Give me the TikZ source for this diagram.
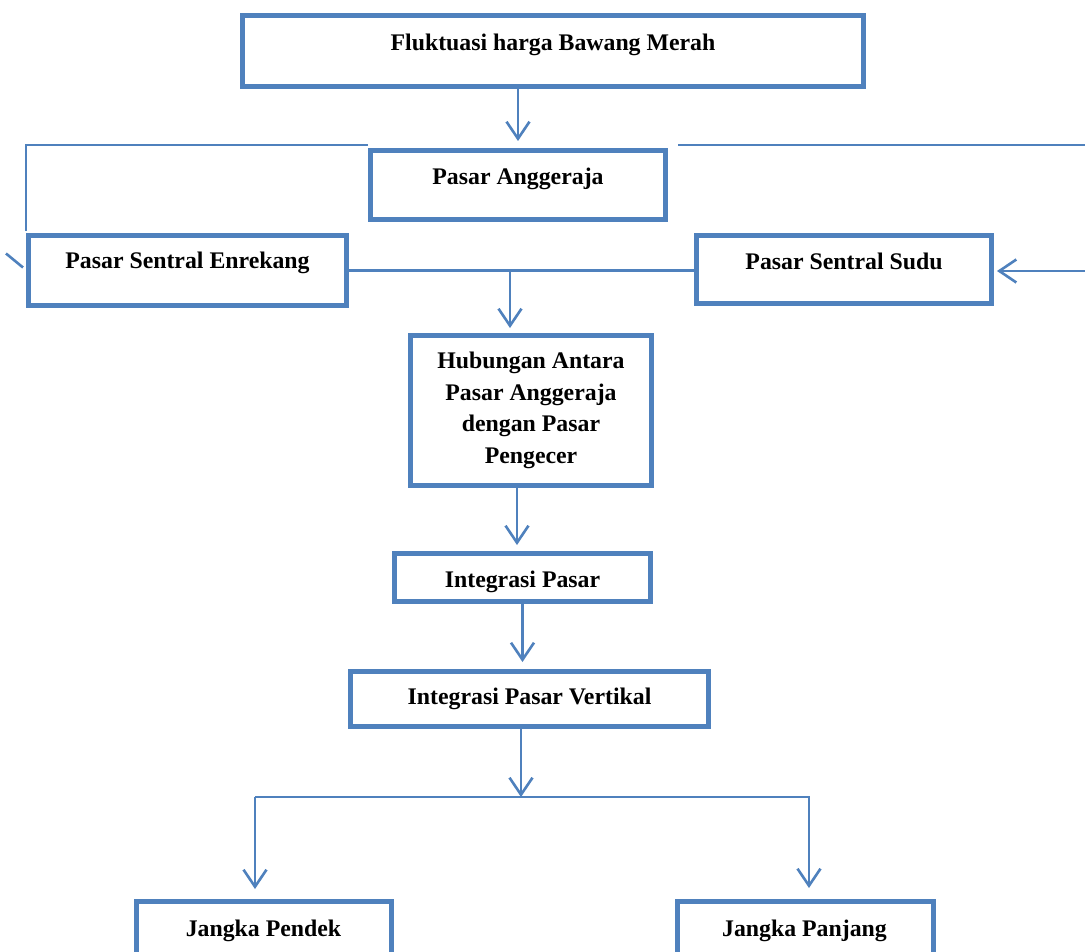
\documentclass[tikz,border=0pt]{standalone}
\usepackage{fontspec}
\setmainfont{Liberation Serif}
\usetikzlibrary{arrows.meta,calc}
\definecolor{bl}{HTML}{4F81BD}
\tikzset{
  box/.style={draw=bl, line width=5pt, rectangle, inner sep=0pt, fill=white},
  lbl/.style={font=\fontsize{23.8}{31.5}\selectfont\bfseries, align=center, inner sep=0pt, text=black},
  conn/.style={draw=bl, line width=2.2pt},
  arr/.style={conn, -{Straight Barb[length=17pt, width=23pt, line width=2.6pt]}}
}
\begin{document}
\begin{tikzpicture}[x=1pt,y=-1pt]
\useasboundingbox (0,0) rectangle (1085,952);
\clip (0,0) rectangle (1085,952);
\fill[white] (0,0) rectangle (1085,952);
% boxes
\node[box, minimum width=621pt, minimum height=71pt] (fluk) at (553,51) {};
\node[box, minimum width=295pt, minimum height=69pt] (angg) at (518,185) {};
\node[box, minimum width=318pt, minimum height=70pt] (enre) at (187.5,270.5) {};
\node[box, minimum width=295pt, minimum height=68pt] (sudu) at (844,269.5) {};
\node[box, minimum width=241pt, minimum height=150pt] (hub) at (531,410.5) {};
\node[box, minimum width=256pt, minimum height=48pt] (int) at (522.5,577.5) {};
\node[box, minimum width=358pt, minimum height=55pt] (vert) at (529.5,699) {};
\node[box, minimum width=255pt, minimum height=70pt] (pend) at (264,936.5) {};
\node[box, minimum width=256pt, minimum height=70pt] (panj) at (805.5,936.5) {};
% labels
\node[lbl] (tfluk) at (553,44.5) {Fluktuasi harga Bawang Merah};
\node[lbl] (tangg) at (518,178.5) {Pasar Anggeraja};
\node[lbl] (tenre) at (187.5,262.5) {Pasar Sentral Enrekang};
\node[lbl] (tsudu) at (844,261.5) {Pasar Sentral Sudu};
\node[lbl] (thub) at (531,410.5) {Hubungan Antara\\Pasar Anggeraja\\dengan Pasar\\Pengecer};
\node[lbl] (tint) at (522.5,581.5) {Integrasi Pasar};
\node[lbl] (tvert) at (529.5,698.5) {Integrasi Pasar Vertikal};
\node[lbl] (tpend) at (263.5,930.5) {Jangka Pendek};
\node[lbl] (tpanj) at (804.5,930.5) {Jangka Panjang};
% coordinates
\coordinate (rbot) at (1090,271);
\coordinate (j) at (521,797);
\coordinate (jl) at (255,797);
\coordinate (jr) at (810,797);
% connectors
\draw[arr] (angg.north |- fluk.south) -- ([yshift=7pt]angg.north);
\draw[conn] ([yshift=3pt]angg.north west) -- ([yshift=3pt]angg.north west -| enre.west) -- ([yshift=2pt]enre.north west);
\draw[conn, line width=2.6pt] ([xshift=-20pt,yshift=17pt]enre.west) -- ([xshift=-3pt,yshift=3pt]enre.west);
\draw[conn] ([xshift=10pt,yshift=3pt]angg.north east) -| (rbot);
\draw[arr] (rbot) -- ([xshift=3pt,yshift=-1.5pt]sudu.east);
\draw[conn] (enre.east) -- (enre.east -| sudu.west);
\draw[arr] ([xshift=-21pt]hub.north |- enre.east) -- ([xshift=-21pt,yshift=5pt]hub.north);
\draw[arr] ([xshift=-5.5pt]int.north |- hub.south) -- ([xshift=-5.5pt,yshift=6pt]int.north);
\draw[arr] (int.south) -- ([xshift=-7pt,yshift=7pt]vert.north);
\draw[arr] (vert.south -| j) -- (j);
\draw[conn] (jl) -- (jr);
\draw[arr] (jl) -- ([yshift=10pt]pend.north -| jl);
\draw[arr] ([xshift=-1pt]jr) -- ([xshift=-1pt,yshift=11pt]panj.north -| jr);
\end{tikzpicture}
\end{document}
